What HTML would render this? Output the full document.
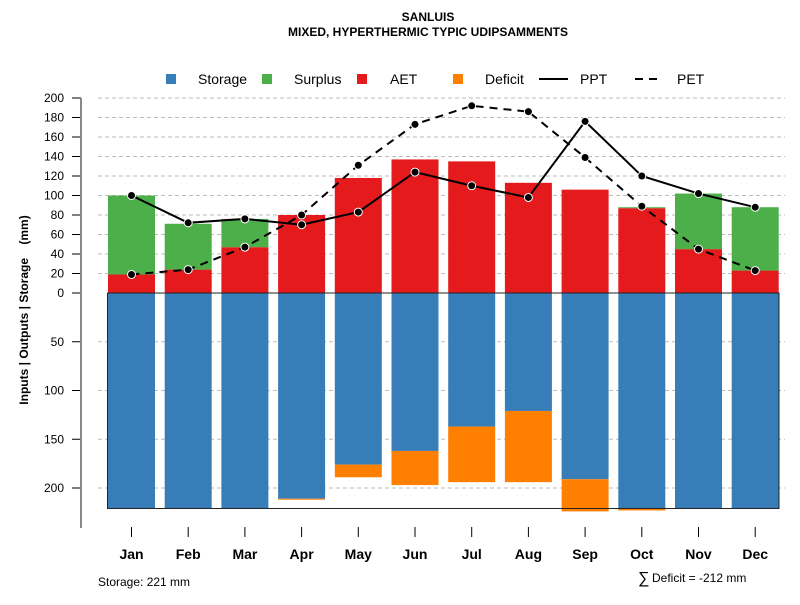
<!DOCTYPE html>
<html><head><meta charset="utf-8"><style>
body{margin:0;background:#fff;}
svg text{font-family:"Liberation Sans",sans-serif;}
</style></head><body>
<svg width="800" height="600" xmlns="http://www.w3.org/2000/svg">
<text x="428" y="21" text-anchor="middle" font-size="12" font-weight="bold">SANLUIS</text>
<text x="428" y="36" text-anchor="middle" font-size="12" font-weight="bold">MIXED, HYPERTHERMIC TYPIC UDIPSAMMENTS</text>
<g id="legend" font-size="14">
<g><rect x="166" y="74" width="10" height="10" fill="#377eb8"/><text x="198" y="84">Storage</text></g>
<g><rect x="262" y="74" width="10" height="10" fill="#4daf4a"/><text x="294" y="84">Surplus</text></g>
<g><rect x="357" y="74" width="10" height="10" fill="#e41a1c"/><text x="390" y="84">AET</text></g>
<g><rect x="453" y="74" width="10" height="10" fill="#ff7f00"/><text x="485" y="84">Deficit</text></g>
<g><line x1="539" y1="79" x2="568" y2="79" stroke="#000" stroke-width="2"/><text x="580" y="84">PPT</text></g>
<g><line x1="635" y1="79" x2="659" y2="79" stroke="#000" stroke-width="2" stroke-dasharray="8,6"/><text x="677" y="84">PET</text></g>
</g>
<text transform="translate(28,310) rotate(-90)" text-anchor="middle" font-size="12" font-weight="bold" style="white-space:pre">Inputs | Outputs | Storage    (mm)</text>
<g id="grid"></g>
<g id="bars"></g>
<g id="lines"></g>
<g id="axes"></g>
<text x="98" y="586" font-size="12">Storage: 221 mm</text>
<text x="638" y="583" font-size="16">∑</text>
<text x="652" y="582" font-size="12">Deficit = -212 mm</text>
</svg>
<script>
const months=["Jan","Feb","Mar","Apr","May","Jun","Jul","Aug","Sep","Oct","Nov","Dec"];
const aet=[19,24,47,80,118,137,135,113,106,87,45,23];
const surplus=[81,47,29,0,0,0,0,0,0,1,57,65];
const ppt=[100,72,76,70,83,124,110,98,176,120,102,88];
const pet=[19,24,47,80,131,173,192,186,139,89,45,23];
const storage=[221,221,221,211,176,162,137,121,191,221,221,221];
const deficit=[0,0,0,1,13,35,57,73,33,2,0,0];
const upTicks=[0,20,40,60,80,100,120,140,160,180,200];
const downTicks=[50,100,150,200];
const capacity=221;
const NS="http://www.w3.org/2000/svg";
const y0=293,k=0.975;
const yU=v=>y0-v*k, yD=v=>y0+v*k;
const xC=i=>131.5+i*56.7, bw=47;
function mk(t,a,p){const e=document.createElementNS(NS,t);for(const q in a)e.setAttribute(q,a[q]);p.appendChild(e);return e;}
const G=document.getElementById('grid'),B=document.getElementById('bars'),L=document.getElementById('lines'),A=document.getElementById('axes');
upTicks.forEach(t=>{if(t>0){const l=mk('line',{x1:98,x2:785,y1:yU(t),y2:yU(t),stroke:'#bbb','stroke-dasharray':'4,3'},G);

}
const tk=mk('line',{x1:72,x2:81,y1:yU(t),y2:yU(t),stroke:'#000'},A);


const tx=mk('text',{x:64,y:yU(t)+4,'text-anchor':'end','font-size':12},A);tx.textContent=t;

});
downTicks.forEach(t=>{const l=mk('line',{x1:98,x2:785,y1:yD(t),y2:yD(t),stroke:'#bbb','stroke-dasharray':'4,3'},G);


const tk=mk('line',{x1:72,x2:81,y1:yD(t),y2:yD(t),stroke:'#000'},A);


const tx=mk('text',{x:64,y:yD(t)+4,'text-anchor':'end','font-size':12},A);tx.textContent=t;

});
months.forEach((m,i)=>{const x=xC(i)-bw/2;
let r=mk('rect',{x:x,y:yU(aet[i]),width:bw,height:aet[i]*k,fill:'#e41a1c'},B);


if(surplus[i]>0){r=mk('rect',{x:x,y:yU(aet[i]+surplus[i]),width:bw,height:surplus[i]*k,fill:'#4daf4a'},B);

}
r=mk('rect',{x:x,y:y0,width:bw,height:storage[i]*k,fill:'#377eb8'},B);


if(deficit[i]>0){r=mk('rect',{x:x,y:yD(storage[i]),width:bw,height:deficit[i]*k,fill:'#ff7f00'},B);

}
const tk=mk('line',{x1:xC(i),x2:xC(i),y1:527,y2:537,stroke:'#000'},A);


const tx=mk('text',{x:xC(i),y:559,'text-anchor':'middle','font-size':14,'font-weight':'bold'},A);tx.textContent=m;

});
const box=mk('rect',{x:107.5,y:y0,width:671.5,height:capacity*k,fill:'none',stroke:'#222','stroke-width':1},B);


const ax=mk('line',{x1:81,x2:81,y1:98,y2:528,stroke:'#888','stroke-width':2},A);


function series(vals,dash,name){const p=mk('polyline',{points:vals.map((v,i)=>xC(i)+','+yU(v)).join(' '),fill:'none',stroke:'#000','stroke-width':2,'stroke-dasharray':dash},L);


vals.forEach((v,i)=>{const c=mk('circle',{cx:xC(i),cy:yU(v),r:4,fill:'#000',stroke:'#fff','stroke-width':1},L);

});}
series(pet,'8,6','pet');
series(ppt,'none','ppt');
</script>
</body></html>
